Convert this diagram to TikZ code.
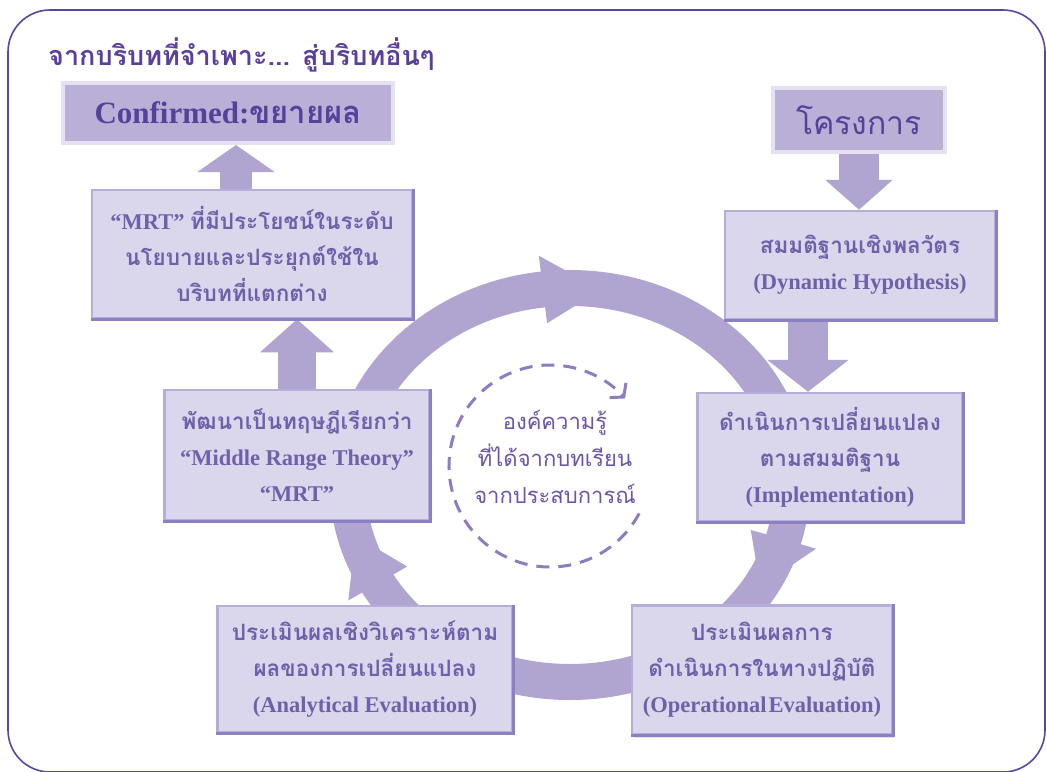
\documentclass[tikz,border=0pt]{standalone}
\usepackage{fontspec}
\setmainfont{Liberation Serif}
\newfontfamily\thaiF[Script=Thai]{Loma}
\usetikzlibrary{arrows.meta,calc,shadows}
\pgfdeclarelayer{back}
\pgfsetlayers{back,main}

\definecolor{framepurple}{HTML}{5846A5}
\definecolor{titlepurple}{HTML}{5B3F9D}
\definecolor{headfill}{HTML}{B9AFD7}
\definecolor{headedge}{HTML}{E5E1F2}
\definecolor{headtext}{HTML}{56419A}
\definecolor{boxfill}{HTML}{DAD6EC}
\definecolor{boxedge}{HTML}{B6ADD9}
\definecolor{boxdark}{HTML}{8C80C4}
\definecolor{boxtext}{HTML}{6F61A9}
\definecolor{ringfill}{HTML}{B0A5D1}
\definecolor{knowtext}{HTML}{6A55AA}
\definecolor{dashpurple}{HTML}{8E7CC3}

\begin{document}
\begin{tikzpicture}[x=1pt,y=-1pt,
  headbox/.style={draw=headedge, line width=4pt, fill=headfill, text=headtext, inner sep=0pt},
  stepbox/.style={draw=boxedge, line width=2.5pt, fill=boxfill, text=boxtext, align=center,
    inner sep=0pt, font=\fontsize{22.5}{36}\selectfont\bfseries,
    drop shadow={shadow xshift=2pt, shadow yshift=-3pt, opacity=0.22, fill=black!45}},
  blockarrow/.style={draw=ringfill, line width=#1},
  knowtextstyle/.style={text=knowtext, align=center, inner sep=0pt,
    font=\thaiF\fontsize{22}{37}\selectfont}]

\useasboundingbox (0,0) rectangle (1046,771);

% outer frame
\draw[framepurple, line width=1.6pt, rounded corners=42pt] (8,10) rectangle (1045,772);

% heading
\node[anchor=base west, text=titlepurple, inner sep=0pt,
  font=\thaiF\bfseries\fontsize{27}{30}\selectfont] (title) at (48,65)
  {จากบริบทที่จำเพาะ... สู่บริบทอื่นๆ};

% top boxes
\node[headbox, minimum width=330pt, minimum height=60pt] (conf) at (228,113)
  {\bfseries\fontsize{31}{34}\selectfont Confirmed:{\thaiF ขยายผล}};
\node[headbox, minimum width=172pt, minimum height=64pt] (proj) at (859,120)
  {\thaiF\fontsize{32}{36}\selectfont โครงการ};

% cycle steps
\node[stepbox, minimum width=320pt, minimum height=128pt] (mrt) at (252,254)
  {“MRT” {\thaiF ที่มีประโยชน์ในระดับ}\\{\thaiF นโยบายและประยุกต์ใช้ใน}\\{\thaiF บริบทที่แตกต่าง}};
\node[stepbox, minimum width=270pt, minimum height=108pt] (dyn) at (860,265)
  {{\thaiF สมมติฐานเชิงพลวัตร}\\(Dynamic Hypothesis)};
\node[stepbox, minimum width=265pt, minimum height=130pt] (mid) at (297,455)
  {{\thaiF พัฒนาเป็นทฤษฎีเรียกว่า}\\“Middle Range Theory”\\“MRT”};
\node[stepbox, minimum width=265pt, minimum height=128pt] (impl) at (830,457)
  {{\thaiF ดำเนินการเปลี่ยนแปลง}\\{\thaiF ตามสมมติฐาน}\\(Implementation)};
\node[stepbox, minimum width=295pt, minimum height=126pt] (anal) at (365,669)
  {{\thaiF ประเมินผลเชิงวิเคราะห์ตาม}\\{\thaiF ผลของการเปลี่ยนแปลง}\\(Analytical Evaluation)};
\node[stepbox, minimum width=260pt, minimum height=129pt] (oper) at (762,670)
  {{\thaiF ประเมินผลการ}\\{\thaiF ดำเนินการในทางปฏิบัติ}\\(Operational\hspace{2pt}Evaluation)};

% bevelled right and bottom edges
\foreach \b in {mrt,dyn,mid,impl,anal,oper}
  \draw[boxdark, line width=3pt] (\b.north east) -- (\b.south east) -- (\b.south west);

% centre text with dashed cycle
\coordinate (kc) at (550,466);
\node[knowtextstyle] (know) at (555,457)
  {องค์ความรู้\\ที่ได้จากบทเรียน\\จากประสบการณ์};
\draw[dashpurple, line width=3pt, dash pattern=on 13pt off 9pt,
  -{Straight Barb[length=9pt,width=22pt]}]
  ($(kc)+(28:101)$) arc[start angle=28, end angle=318, radius=101];

\begin{pgfonlayer}{back}
  % big cycle ring with its arrowheads
  \coordinate (ringc) at (570,485);
  \draw[ringfill, line width=36pt] (ringc) ellipse [x radius=222, y radius=197];
  \foreach \a in {263,16,150}
    \fill[ringfill] ($(ringc)+(\a:256 and 231)$) -- ($(ringc)+(\a+15:222 and 197)$)
      -- ($(ringc)+(\a:188 and 163)$) -- cycle;

  % block arrows between boxes
  \coordinate (a1) at ($(mrt.north)+(-16,0)$);
  \draw[blockarrow=32pt, -{Triangle[width=76pt,length=27pt]}, fill=ringfill]
    (a1) -- (a1 |- conf.south);
  \draw[blockarrow=38pt, -{Triangle[width=72pt,length=33pt]}, fill=ringfill]
    (mid.north) -- (mid.north |- mrt.south);
  \draw[blockarrow=40pt, -{Triangle[width=66pt,length=30pt]}, fill=ringfill]
    (proj.south) -- (proj.south |- dyn.north);
  \coordinate (a4) at ($(impl.north)+(-22,0)$);
  \draw[blockarrow=40pt, -{Triangle[width=80pt,length=32pt]}, fill=ringfill]
    (a4 |- dyn.south) -- (a4);
\end{pgfonlayer}
\end{tikzpicture}
\end{document}
